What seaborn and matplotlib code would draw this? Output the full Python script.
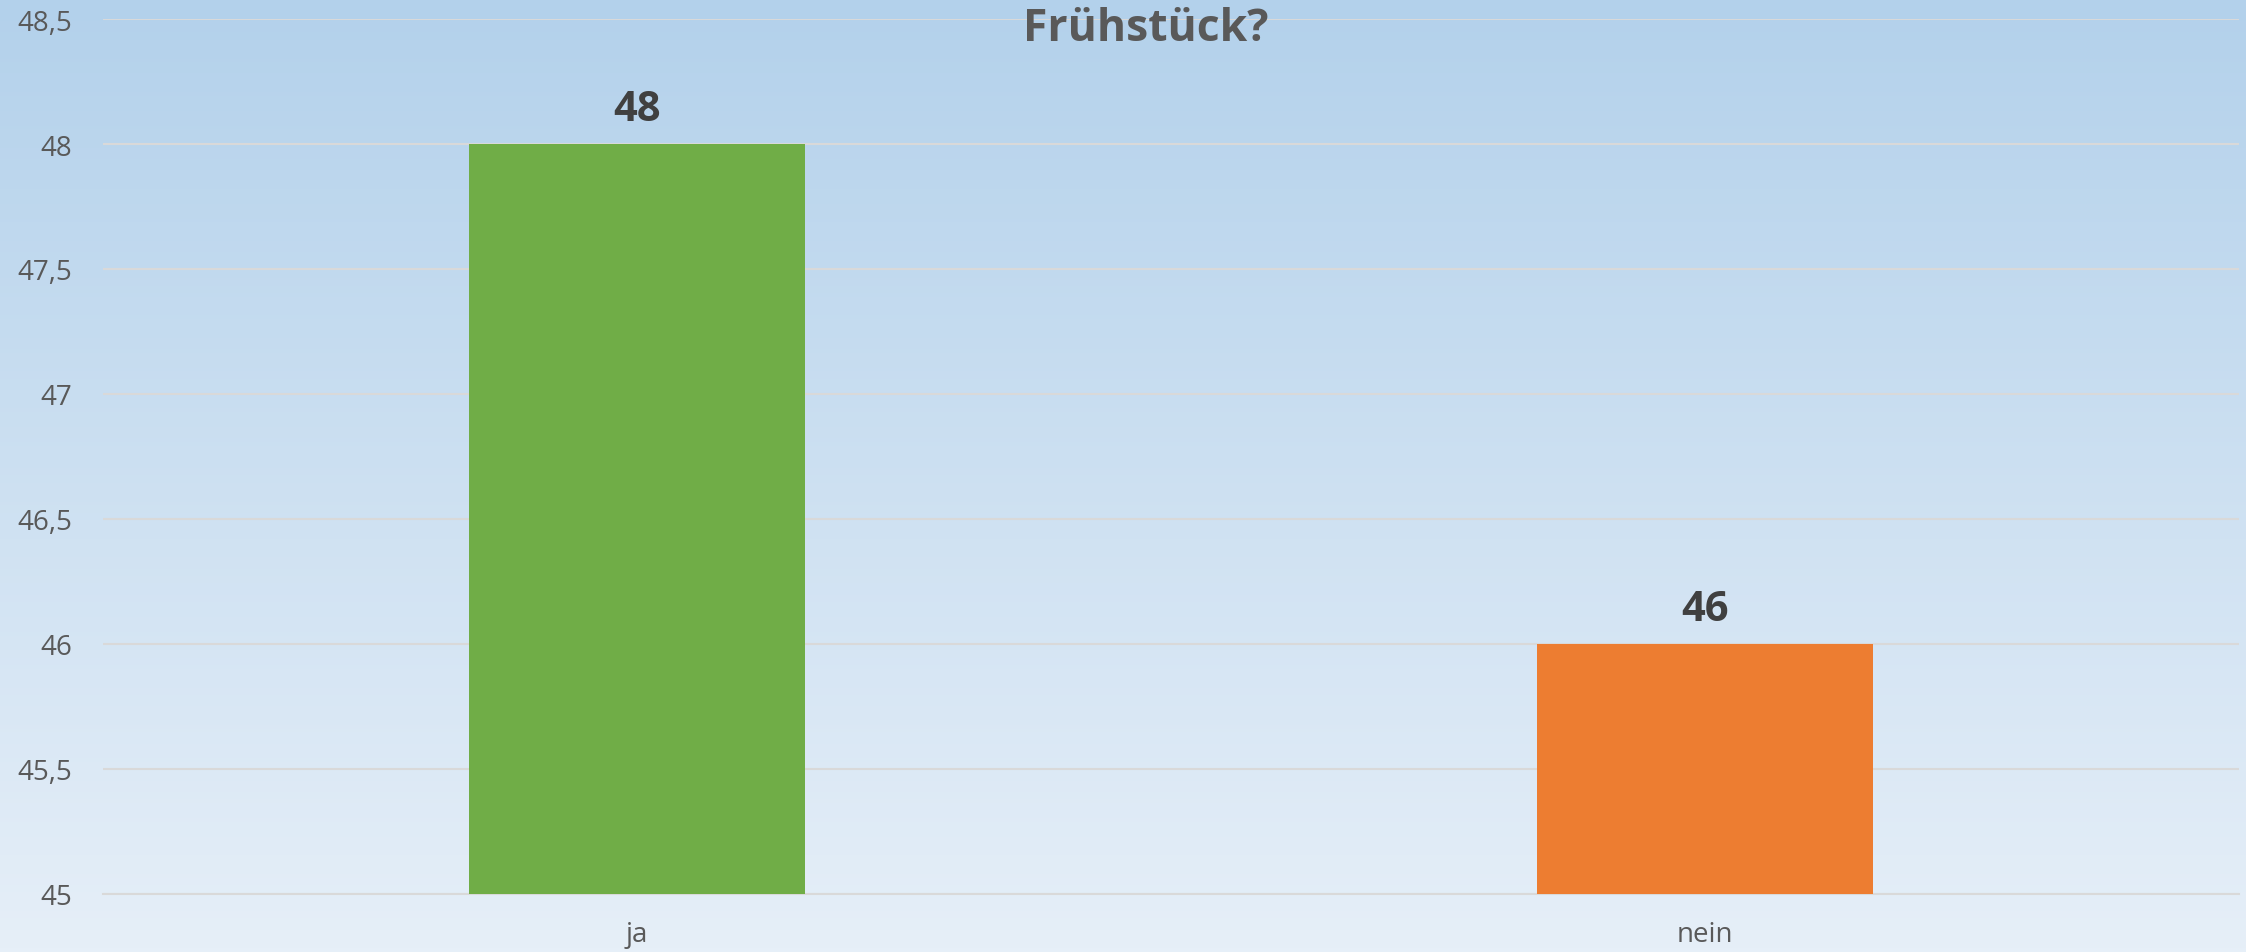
import numpy as np
import pandas as pd
import matplotlib
matplotlib.use("Agg")
import matplotlib.pyplot as plt
import seaborn as sns
from matplotlib.colors import LinearSegmentedColormap

categories = ["ja", "nein"]
values = [48, 46]
bar_colors = ["#70AD47", "#ED7D31"]
y_ticks = [45, 45.5, 46, 46.5, 47, 47.5, 48, 48.5]
y_tick_labels = ["45", "45,5", "46", "46,5", "47", "47,5", "48", "48,5"]
title = "Frühstück?"

sns.set_theme(style="white")
plt.rcParams["font.family"] = ["Open Sans", "DejaVu Sans"]

W, H, DPI = 2246, 953, 100
fig = plt.figure(figsize=(W / DPI, H / DPI), dpi=DPI)

# gradient background
bg = fig.add_axes([0, 0, 1, 1], zorder=0)
cmap = LinearSegmentedColormap.from_list("bg", ["#B3D1EB", "#E6EFF8"])
grad = np.linspace(0, 1, 256).reshape(-1, 1)
bg.imshow(grad, aspect="auto", cmap=cmap, extent=[0, 1, 0, 1], origin="upper")
bg.set_axis_off()

ax = fig.add_axes([103 / W, 1 - 895 / H, (2239 - 103) / W, (895 - 20) / H], zorder=1)
ax.patch.set_alpha(0)

df = pd.DataFrame({"cat": categories, "val": values})
sns.barplot(data=df, x="cat", y="val", hue="cat", palette=bar_colors,
            width=0.314, legend=False, ax=ax, zorder=3, saturation=1,
            linewidth=0, edgecolor="none")

ax.set_xlim(-0.5, 1.5)
ax.set_ylim(45, 48.5)
ax.set_yticks(y_ticks)
ax.set_yticklabels(y_tick_labels)
ax.set_xlabel("")
ax.set_ylabel("")

ax.grid(axis="y", color="#D9D9D9", linewidth=1.5, zorder=0)
ax.grid(axis="x", visible=False)
for s in ["top", "right", "left"]:
    ax.spines[s].set_visible(False)
ax.spines["bottom"].set_color("#D9D9D9")
ax.spines["bottom"].set_linewidth(1.5)
ax.set_axisbelow(True)

ax.tick_params(axis="y", length=0, pad=22, labelsize=20, labelcolor="#595959")
ax.tick_params(axis="x", length=0, pad=19, labelsize=20, labelcolor="#595959")
for lab in ax.get_yticklabels():
    lab.set_verticalalignment("center_baseline")

for i, v in enumerate(values):
    ax.annotate(f"{v}", xy=(i, v), xytext=(0, 17), textcoords="offset points",
                ha="center", va="baseline", fontsize=30, fontweight="bold",
                color="#404040")

fig.text(1146 / W, 1 - 41 / H, title, ha="center", va="baseline",
         fontsize=32, fontweight="bold", color="#595959", zorder=5)

fig.savefig("out.png", dpi=DPI)
